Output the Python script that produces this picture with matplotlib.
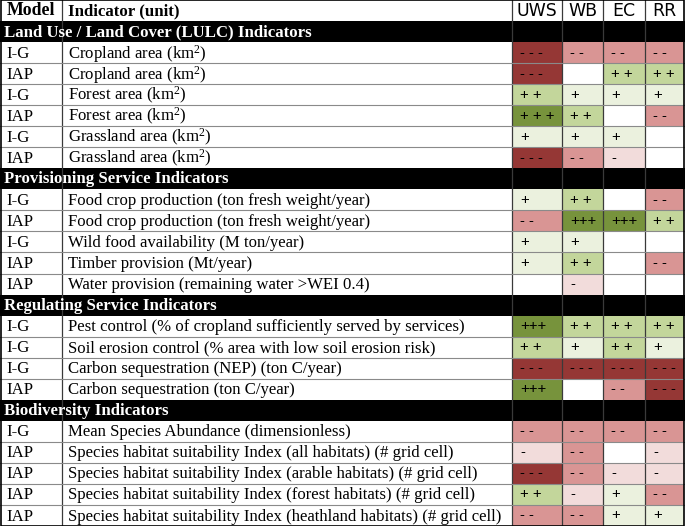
import matplotlib
matplotlib.use("Agg")
import matplotlib.pyplot as plt
from matplotlib.patches import Rectangle

# ---------------- data ----------------
scenarios = ["UWS", "WB", "EC", "RR"]
sections = ["Land Use / Land Cover (LULC) Indicators",
            "Provisioning Service Indicators",
            "Regulating Service Indicators",
            "Biodiversity Indicators"]
section_sizes = [6, 5, 4, 5]

models = ["I-G", "IAP", "I-G", "IAP", "I-G", "IAP",
          "I-G", "IAP", "I-G", "IAP", "IAP",
          "I-G", "I-G", "I-G", "IAP",
          "I-G", "IAP", "IAP", "IAP", "IAP"]

indicators = [
    r"Cropland area (km$^{2}$)",
    r"Cropland area (km$^{2}$)",
    r"Forest area (km$^{2}$)",
    r"Forest area (km$^{2}$)",
    r"Grassland area (km$^{2}$)",
    r"Grassland area (km$^{2}$)",
    "Food crop production (ton fresh weight/year)",
    "Food crop production (ton fresh weight/year)",
    "Wild food availability (M ton/year)",
    "Timber provision (Mt/year)",
    "Water provision (remaining water >WEI 0.4)",
    "Pest control (% of cropland sufficiently served by services)",
    "Soil erosion control (% area with low soil erosion risk)",
    "Carbon sequestration (NEP) (ton C/year)",
    "Carbon sequestration (ton C/year)",
    "Mean Species Abundance (dimensionless)",
    "Species habitat suitability Index (all habitats) (# grid cell)",
    "Species habitat suitability Index (arable habitats) (# grid cell)",
    "Species habitat suitability Index (forest habitats) (# grid cell)",
    "Species habitat suitability Index (heathland habitats) (# grid cell)",
]

uws = ["- - -", "- - -", "+ +", "+ + +", "+", "- - -",
       "+", "- -", "+", "+", "",
       "+++", "+ +", "- - -", "+++",
       "- -", "-", "- - -", "+ +", "- -"]
wb = ["- -", "", "+", "+ +", "+", "- -",
      "+ +", "+++", "+", "+ +", "-",
      "+ +", "+", "- - -", "",
      "- -", "- -", "- -", "-", "- -"]
ec = ["- -", "+ +", "+", "", "+", "-",
      "", "+++", "", "", "",
      "+ +", "+ +", "- - -", "- -",
      "- -", "", "-", "+", "+"]
rr = ["- -", "+ +", "+", "- -", "", "",
      "- -", "+ +", "", "- -", "",
      "+ +", "+", "- - -", "- - -",
      "- -", "-", "-", "- -", "+"]

# ---------------- style ----------------
level_colors = {-3: "#953735", -2: "#D99594", -1: "#F2DCDB", 0: "#FFFFFF",
                1: "#EBF1DE", 2: "#C3D69B", 3: "#77933C"}

plt.rcParams["mathtext.fontset"] = "custom"
plt.rcParams["mathtext.rm"] = "Liberation Serif"
plt.rcParams["mathtext.it"] = "Liberation Serif:italic"
plt.rcParams["mathtext.bf"] = "Liberation Serif:bold"

SERIF = ["Liberation Serif", "DejaVu Serif"]
NARROW = ["Liberation Sans Narrow", "DejaVu Sans"]
SIGN = ["Liberation Sans", "DejaVu Sans"]

W, H = 685, 526
col_edges = [0, 62, 512, 562, 603.5, 645, 684]
n_rows = 1 + len(sections) + sum(section_sizes)

fig = plt.figure(figsize=(W / 100, H / 100), dpi=100)
ax = fig.add_axes([0, 0, 1, 1])
ax.set_xlim(0, W)
ax.set_ylim(n_rows, 0)
ax.axis("off")

values = [uws, wb, ec, rr]

def level(s):
    return s.count("+") - s.count("-")

FS = 12.1

# header row
ax.text(col_edges[0] + 7, 0.52, "Model", family=SERIF, weight="bold", fontsize=12.8,
        va="center", ha="left")
ax.text(col_edges[1] + 6, 0.52, "Indicator (unit)", family=SERIF, weight="bold",
        fontsize=FS, va="center", ha="left")
for j, sc in enumerate(scenarios):
    cx = (col_edges[2 + j] + col_edges[3 + j]) / 2
    ax.text(cx, 0.52, sc, family=NARROW, fontsize=12.5, va="center", ha="center")

fine = dict(color="#8a8a8a", lw=0.8)
dark = dict(color="#3a3a3a", lw=0.9)

r = 1
idx = 0
for s, size in zip(sections, section_sizes):
    ax.add_patch(Rectangle((0, r), W, 1, facecolor="black", edgecolor="none", zorder=2))
    ax.text(4, r + 0.52, s, family=SERIF, weight="bold", fontsize=FS, color="white",
            va="center", ha="left", zorder=3)
    r += 1
    for k in range(size):
        for j in range(4):
            v = values[j][idx]
            x0 = col_edges[2 + j]
            x1 = col_edges[3 + j]
            ax.add_patch(Rectangle((x0, r), x1 - x0, 1,
                                   facecolor=level_colors[level(v)],
                                   edgecolor="none", zorder=1))
            if v:
                ax.text(x0 + 8, r + 0.5, v, family=SIGN, fontsize=10.8,
                        va="center", ha="left", zorder=3)
        ax.text(6, r + 0.55, models[idx], family=SERIF, fontsize=FS,
                va="center", ha="left", zorder=3)
        ax.text(col_edges[1] + 6, r + 0.55, indicators[idx], family=SERIF,
                fontsize=FS, va="center", ha="left", zorder=3)
        if k < size - 1:
            ax.plot([0, W], [r + 1, r + 1], zorder=2.5, **fine)
        r += 1
        idx += 1

for xe in col_edges[1:-1]:
    ax.plot([xe, xe], [0, n_rows], zorder=2.2, **dark)
ax.add_patch(Rectangle((0.5, 0.02), W - 1.5, n_rows - 0.04, facecolor="none",
                       edgecolor="black", lw=1.2, zorder=4))

fig.savefig("out.png", dpi=100)
